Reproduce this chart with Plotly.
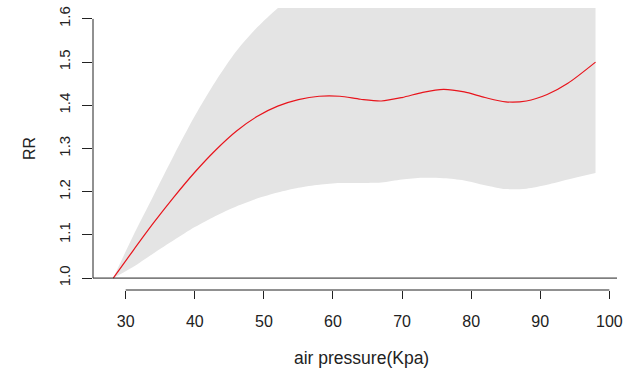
import plotly.graph_objects as go

# Data
pressure = [28.2, 31, 34, 37, 40, 43, 46, 49, 52, 55, 58, 61, 64, 67, 70, 73, 76, 79, 82, 85, 88, 91, 94, 98]
rr = [1.000, 1.062, 1.127, 1.188, 1.245, 1.296, 1.340, 1.374, 1.398, 1.413, 1.421, 1.421, 1.414, 1.410,
      1.418, 1.430, 1.437, 1.431, 1.418, 1.408, 1.410, 1.425, 1.451, 1.500]
lower = [1.000, 1.025, 1.057, 1.088, 1.118, 1.144, 1.166, 1.184, 1.198, 1.209, 1.216, 1.220, 1.220, 1.221,
         1.228, 1.232, 1.231, 1.226, 1.215, 1.206, 1.207, 1.216, 1.228, 1.243]
upper = [1.000, 1.095, 1.190, 1.285, 1.375, 1.455, 1.525, 1.580, 1.625, 1.660, 1.690, 1.710, 1.720, 1.725,
         1.730, 1.740, 1.750, 1.750, 1.745, 1.740, 1.750, 1.770, 1.800, 1.850]
x_ticks = [30, 40, 50, 60, 70, 80, 90, 100]
y_ticks = [1.0, 1.1, 1.2, 1.3, 1.4, 1.5, 1.6]

X_RANGE = [25.27, 101.11]
Y_RANGE = [0.9724, 1.6253]
FONT = "Liberation Sans, Arial, sans-serif"


def yfrac(v):
    return (v - Y_RANGE[0]) / (Y_RANGE[1] - Y_RANGE[0])


def xfrac(v):
    return (v - X_RANGE[0]) / (X_RANGE[1] - X_RANGE[0])


fig = go.Figure()
fig.add_trace(go.Scatter(
    x=pressure, y=lower, mode="lines",
    line=dict(width=0, color="#e4e4e4", shape="spline", smoothing=0.8),
    hoverinfo="skip", showlegend=False))
fig.add_trace(go.Scatter(
    x=pressure, y=upper, mode="lines", fill="tonexty", fillcolor="#e4e4e4",
    line=dict(width=0, color="#e4e4e4", shape="spline", smoothing=0.8),
    hoverinfo="skip", showlegend=False))
fig.add_trace(go.Scatter(
    x=pressure, y=rr, mode="lines", line=dict(color="#e8141c", width=1.2, shape="spline", smoothing=0.8),
    showlegend=False))

shapes = [
    # abline at RR = 1
    dict(type="line", xref="paper", yref="y", x0=0, x1=1, y0=1.0, y1=1.0,
         line=dict(color="#222222", width=1)),
    # y axis line spanning the ticks
    dict(type="line", xref="paper", yref="paper", x0=0, x1=0,
         y0=yfrac(y_ticks[0]), y1=yfrac(y_ticks[-1]), line=dict(color="#222222", width=1)),
    # x axis line spanning the ticks
    dict(type="line", xref="paper", yref="paper", y0=0, y1=0,
         x0=xfrac(x_ticks[0]), x1=xfrac(x_ticks[-1]), line=dict(color="#222222", width=1)),
]

fig.update_layout(
    width=631, height=368,
    margin=dict(l=93, r=14, t=6, b=78, pad=0),
    paper_bgcolor="white", plot_bgcolor="white",
    font=dict(family=FONT, size=15, color="#222222"),
    shapes=shapes,
    xaxis=dict(range=X_RANGE, tickvals=x_ticks, ticktext=[str(v) for v in x_ticks],
               ticks="outside", ticklen=8, tickcolor="#222222", tickwidth=1,
               showgrid=False, zeroline=False, showline=False, ticklabelstandoff=9,
               tickfont=dict(size=16)),
    yaxis=dict(range=Y_RANGE, tickvals=y_ticks, ticktext=[f"{v:.1f}" for v in y_ticks],
               ticks="outside", ticklen=10, tickcolor="#222222", tickwidth=1, tickangle=-90,
               showgrid=False, zeroline=False, showline=False, ticklabelstandoff=6,
               tickfont=dict(size=15)),
    annotations=[
        dict(text="air pressure(Kpa)", xref="paper", yref="paper",
             x=(361 - 93) / 524, y=-(358 - 290) / 284, xanchor="center", yanchor="middle",
             showarrow=False, font=dict(size=17.5)),
        dict(text="RR", xref="paper", yref="paper", textangle=-90,
             x=-(93 - 29) / 524, y=(290 - 148) / 284, xanchor="center", yanchor="middle",
             showarrow=False, font=dict(size=16)),
    ],
)

fig.write_html("out.html")
